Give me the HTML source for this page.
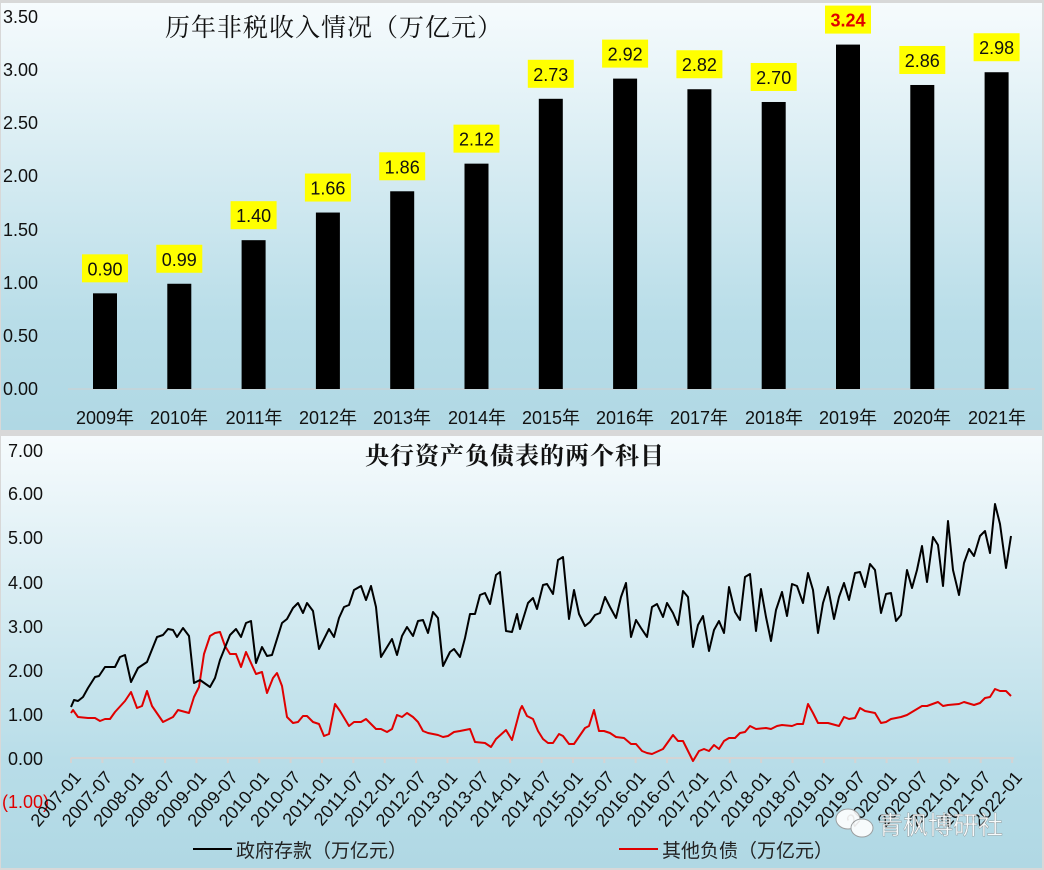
<!DOCTYPE html>
<html><head><meta charset="utf-8"><style>
html,body{margin:0;padding:0;width:1044px;height:870px;overflow:hidden;background:#dcdcdc}
svg{display:block}
text{font-family:"Liberation Sans","Noto Sans CJK SC",sans-serif}
.s{font-family:"Liberation Serif","Noto Serif CJK SC",serif}
</style></head><body>
<svg width="1044" height="870" xmlns="http://www.w3.org/2000/svg">
<defs>
<linearGradient id="g" x1="0" y1="0" x2="0" y2="1">
<stop offset="0" stop-color="#f6fbfd"/><stop offset="0.75" stop-color="#b8dde8"/><stop offset="1" stop-color="#b0d8e4"/>
</linearGradient>
</defs>
<rect x="0" y="0" width="1044" height="870" fill="#d8d8d8"/>
<rect x="1" y="3" width="1041" height="427" fill="url(#g)"/>
<rect x="1" y="436" width="1041" height="432" fill="url(#g)"/>

<!-- TOP CHART -->
<g font-size="18" fill="#111">
<text x="3" y="23">3.50</text><text x="3" y="76">3.00</text><text x="3" y="129">2.50</text>
<text x="3" y="182">2.00</text><text x="3" y="236">1.50</text><text x="3" y="289">1.00</text>
<text x="3" y="342">0.50</text><text x="3" y="395">0.00</text>
</g>
<text x="165" y="36" class="s" font-size="25" letter-spacing="1" fill="#111">历年非税收入情况（万亿元）</text>
<line x1="68" y1="389" x2="1035" y2="389" stroke="#d0d0d0" stroke-width="1"/>
<g id="bars"></g>
<g font-size="18" fill="#111" text-anchor="middle">
<text x="105" y="424">2009年</text><text x="179" y="424">2010年</text><text x="254" y="424">2011年</text>
<text x="328" y="424">2012年</text><text x="402" y="424">2013年</text><text x="477" y="424">2014年</text>
<text x="551" y="424">2015年</text><text x="625" y="424">2016年</text><text x="699" y="424">2017年</text>
<text x="774" y="424">2018年</text><text x="848" y="424">2019年</text><text x="922" y="424">2020年</text>
<text x="997" y="424">2021年</text>
</g>

<!-- BOTTOM CHART -->
<g font-size="18" fill="#111">
<text x="8" y="457">7.00</text><text x="8" y="500">6.00</text><text x="8" y="544">5.00</text>
<text x="8" y="589">4.00</text><text x="8" y="633">3.00</text><text x="8" y="677">2.00</text>
<text x="8" y="721">1.00</text><text x="8" y="765">0.00</text>
<text x="2" y="808" fill="#e00000">(1.00)</text>
</g>
<text x="365" y="464" class="s" font-size="24" font-weight="bold" letter-spacing="1" fill="#111">央行资产负债表的两个科目</text>
<line x1="71" y1="758" x2="1014" y2="758" stroke="#d4d4d4" stroke-width="2"/>
<g id="ticks" stroke="#d4d4d4" stroke-width="2"></g>
<g id="xl" font-size="18" fill="#111"></g>
<polyline fill="none" stroke="#e00000" stroke-width="2" stroke-linejoin="round" points="71,713 73,710 78,717 88,718 95,718 100,721 105,719 110,719 115,712 125,701 131,692 137,708 142,706 147,691 152,706 163,722 173,717 178,710 189,713 194,697 199,687 204,654 210,636 215,633 220,632 225,646 230,654 236,654 241,667 246,652 256,674 262,672 267,693 273,678 277,673 282,686 287,717 293,723 298,722 303,716 307,716 313,722 319,724 324,736 329,734 335,704 340,711 349,726 354,722 361,722 366,719 376,729 381,729 387,732 392,729 397,715 402,717 407,713 413,717 418,722 423,731 428,733 438,735 443,737 448,736 454,732 460,731 470,729 475,742 485,743 491,747 496,739 506,730 512,740 520,710 522,706 527,716 533,719 538,731 543,739 548,743 553,743 559,734 563,736 569,744 574,744 585,728 589,726 594,710 599,731 604,731 610,733 616,737 624,738 631,744 636,744 642,751 647,753 652,754 663,749 673,735 678,741 683,741 693,761 699,751 704,749 709,751 714,745 719,749 724,741 729,738 735,738 740,733 745,732 750,726 756,729 766,728 771,729 777,726 782,725 792,726 797,724 803,724 808,704 813,713 818,723 828,723 839,726 844,717 849,719 855,718 860,708 865,711 875,713 881,723 886,722 891,719 901,717 907,715 917,709 922,706 927,706 938,702 943,706 948,705 959,704 964,702 974,705 980,703 985,698 990,697 995,689 1000,691 1006,691 1011,696"/>
<polyline fill="none" stroke="#000" stroke-width="2" stroke-linejoin="round" points="71,707 74,700 78,701 83,697 88,688 95,677 99,676 105,667 115,667 120,657 125,655 131,682 138,668 147,662 157,637 163,635 168,629 173,630 177,637 183,628 189,636 194,683 200,680 210,687 215,678 220,660 230,635 236,629 241,637 246,623 251,621 256,663 262,647 267,656 272,655 282,623 287,619 293,608 298,603 303,613 307,603 313,611 319,649 329,629 334,637 339,618 344,607 349,605 354,590 361,586 366,600 371,586 376,607 381,657 392,639 397,655 402,636 407,627 413,636 418,621 423,620 428,633 433,612 438,618 443,666 450,652 454,649 460,657 465,638 470,614 475,614 480,595 485,593 490,604 496,575 500,572 506,631 512,632 517,614 520,629 528,603 533,598 537,609 543,585 547,584 553,594 558,560 563,557 569,619 574,590 579,614 585,626 590,622 595,615 600,613 605,597 610,607 616,618 621,597 626,583 631,637 636,620 641,628 647,637 652,607 657,604 663,617 667,603 673,613 678,625 683,591 688,597 693,647 698,625 703,616 709,651 714,630 719,621 724,633 729,587 735,612 740,620 745,577 750,574 756,631 761,589 766,617 771,641 776,610 782,592 787,616 792,584 797,586 803,603 808,573 813,590 818,633 823,603 828,587 834,619 839,597 844,583 849,600 855,573 860,572 865,587 870,564 875,570 881,613 886,594 891,593 896,621 901,615 907,570 912,588 917,570 922,546 927,582 933,537 938,545 943,586 948,521 953,570 959,595 964,563 969,549 974,556 980,536 985,531 990,553 995,504 1000,524 1006,568 1011,536"/>

<!-- watermark -->
<g opacity="0.9">
<ellipse cx="848" cy="819" rx="12" ry="10" fill="#fff" stroke="#999" stroke-width="1"/>
<ellipse cx="862" cy="828" rx="11" ry="9" fill="#fff" stroke="#999" stroke-width="1"/>
<text x="878" y="834" font-size="25" fill="#fff" stroke="#888" stroke-width="0.4">青枫博研社</text>
</g>

<!-- legend -->
<line x1="193" y1="849" x2="232" y2="849" stroke="#000" stroke-width="2"/>
<text x="236" y="857" font-size="19" fill="#222">政府存款（万亿元）</text>
<line x1="619" y1="849" x2="658" y2="849" stroke="#e00000" stroke-width="2"/>
<text x="662" y="857" font-size="19" fill="#222">其他负债（万亿元）</text>
</svg>
<script>
var ns="http://www.w3.org/2000/svg";
var vals=[0.90,0.99,1.40,1.66,1.86,2.12,2.73,2.92,2.82,2.70,3.24,2.86,2.98];
var b=document.getElementById("bars");
vals.forEach(function(v,i){
 var cx=105+74.3*i, top=389-v*106.3;
 var r=document.createElementNS(ns,"rect");
 r.setAttribute("x",cx-12);r.setAttribute("y",top);r.setAttribute("width",24);r.setAttribute("height",389-top);r.setAttribute("fill","#000");b.appendChild(r);
 var y=document.createElementNS(ns,"rect");
 y.setAttribute("x",cx-23);y.setAttribute("y",top-39);y.setAttribute("width",46);y.setAttribute("height",28);y.setAttribute("fill","#ffff00");b.appendChild(y);
 var t=document.createElementNS(ns,"text");
 t.setAttribute("x",cx);t.setAttribute("y",top-18);t.setAttribute("text-anchor","middle");t.setAttribute("font-size","18");
 if(i==10){t.setAttribute("fill","#e00000");t.setAttribute("font-weight","bold");}else t.setAttribute("fill","#111");
 t.textContent=v.toFixed(2);b.appendChild(t);
});
var tk=document.getElementById("ticks"),xl=document.getElementById("xl");
for(var i=0;i<=30;i++){
 var x=71+i*31.37;
 var l=document.createElementNS(ns,"line");
 l.setAttribute("x1",x);l.setAttribute("x2",x);l.setAttribute("y1",758);l.setAttribute("y2",763);tk.appendChild(l);
 var yr=2007+Math.floor(i/2), m=(i%2)?"07":"01";
 var t=document.createElementNS(ns,"text");
 t.setAttribute("text-anchor","end");
 t.setAttribute("transform","translate("+(x+11)+",778) rotate(-49)");
 t.textContent=yr+"-"+m;xl.appendChild(t);
}
</script>
</body></html>
